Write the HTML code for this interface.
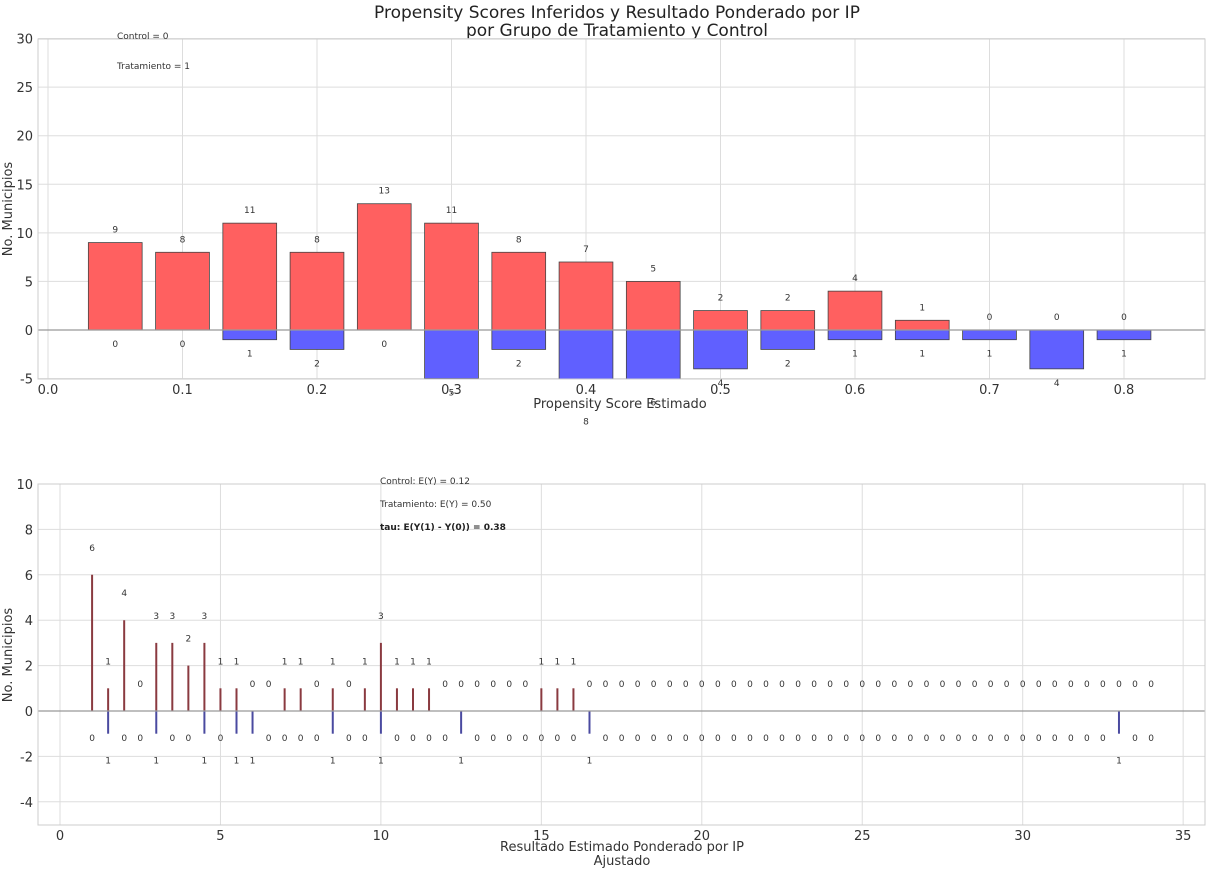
<!DOCTYPE html>
<html><head><meta charset="utf-8"><style>
body{margin:0;background:#fff}
svg{display:block;font-family:"DejaVu Sans","Liberation Sans",sans-serif}
</style></head><body>
<svg id="c" width="1216" height="880" xmlns="http://www.w3.org/2000/svg">
<text x="617" y="18" text-anchor="middle" font-size="17" fill="#222">Propensity Scores Inferidos y Resultado Ponderado por IP</text>
<text x="617" y="36" text-anchor="middle" font-size="17" fill="#222">por Grupo de Tratamiento y Control</text>
<g id="top"></g>
<g id="bot"></g>
</svg>
<script>
// Top panel data
const psBins = [0.05,0.10,0.15,0.20,0.25,0.30,0.35,0.40,0.45,0.50,0.55,0.60,0.65,0.70,0.75,0.80];
const psTreat = [9,8,11,8,13,11,8,7,5,2,2,4,1,0,0,0];
const psControl = [0,0,1,2,0,5,2,8,6,4,2,1,1,1,4,1];
const psXTicks = ["0.0","0.1","0.2","0.3","0.4","0.5","0.6","0.7","0.8"];
const psYTicks = [-5,0,5,10,15,20,25,30];
// Bottom panel data
const outBins = [];
for (let i=0;i<67;i++) outBins.push(1+i*0.5);
const outTreat = [6,1,4,0,3,3,2,3,1,1,0,0,1,1,0,1,0,1,3,1,1,1,0,0,0,0,0,0,1,1,1,0,0,0,0,0,0,0,0,0,0,0,0,0,0,0,0,0,0,0,0,0,0,0,0,0,0,0,0,0,0,0,0,0,0,0,0];
const outControl = [0,1,0,0,1,0,0,1,0,1,1,0,0,0,0,1,0,0,1,0,0,0,0,1,0,0,0,0,0,0,0,1,0,0,0,0,0,0,0,0,0,0,0,0,0,0,0,0,0,0,0,0,0,0,0,0,0,0,0,0,0,0,0,0,1,0,0];
const outXTicks = [0,5,10,15,20,25,30,35];
const outYTicks = [-4,-2,0,2,4,6,8,10];

const NS="http://www.w3.org/2000/svg";
function mk(p,tag,attrs,txt){const e=document.createElementNS(NS,tag);for(const k in attrs)e.setAttribute(k,attrs[k]);if(txt!==undefined)e.textContent=txt;p.appendChild(e);return e;}

function frame(g,L,R,T,B){
  const r=mk(g,'rect',{x:L,y:T,width:R-L,height:B-T,fill:'none',stroke:'#cccccc'});
  
  
}

// TOP
(function(){
  const g=document.getElementById('top');
  const L=38,R=1205,T=39,B=379;
  const x=v=>48+v*1345, y=v=>330-v*9.714;
  psXTicks.forEach(t=>{const v=parseFloat(t);
    const l=mk(g,'line',{x1:x(v),x2:x(v),y1:T,y2:B,stroke:'#dddddd'});
    
    const tx=mk(g,'text',{x:x(v),y:B+15,'text-anchor':'middle','font-size':13,fill:'#333'},t);
    });
  psYTicks.forEach(v=>{
    const l=mk(g,'line',{x1:L,x2:R,y1:y(v),y2:y(v),stroke:'#dddddd'});
    
    const tx=mk(g,'text',{x:L-5,y:y(v)+5,'text-anchor':'end','font-size':13,fill:'#333'},v);
    });
  const cp=mk(g,'clipPath',{id:'cpTop'});mk(cp,'rect',{x:L,y:T,width:R-L,height:B-T});
  const bw=0.04*1345;
  psBins.forEach((b,i)=>{
    const t=psTreat[i],c=psControl[i];
    if(t>0){const r=mk(g,'rect',{x:x(b)-bw/2,y:y(t),width:bw,height:y(0)-y(t),fill:'#ff6060',stroke:'#444','stroke-width':0.8,'clip-path':'url(#cpTop)'});
      }
    if(c>0){const r=mk(g,'rect',{x:x(b)-bw/2,y:y(0),width:bw,height:y(-c)-y(0),fill:'#6060ff',stroke:'#444','stroke-width':0.8,'clip-path':'url(#cpTop)'});
      }
    const a=mk(g,'text',{x:x(b),y:y(t)-10,'text-anchor':'middle','font-size':9,fill:'#333'},t);
    
    const d=mk(g,'text',{x:x(b),y:y(-c)+17,'text-anchor':'middle','font-size':9,fill:'#333'},c);
    
  });
  const z=mk(g,'line',{x1:L,x2:R,y1:y(0),y2:y(0),stroke:'#999','stroke-width':1.2});
  
  frame(g,L,R,T,B);
  const n1=mk(g,'text',{x:117,y:39,'font-size':9,fill:'#333'},'Control = 0');
  
  const n2=mk(g,'text',{x:117,y:69,'font-size':9,fill:'#333'},'Tratamiento = 1');
  
  const xl=mk(g,'text',{x:620,y:408,'text-anchor':'middle','font-size':13,fill:'#333'},'Propensity Score Estimado');
  
  const yl=mk(g,'text',{x:12,y:209,'text-anchor':'middle','font-size':13,fill:'#333',transform:'rotate(-90 12 209)'},'No. Municipios');
  
})();

// BOTTOM
(function(){
  const g=document.getElementById('bot');
  const L=38,R=1205,T=484,B=825;
  const x=v=>60+v*32.09, y=v=>711-v*22.7;
  outXTicks.forEach(v=>{
    const l=mk(g,'line',{x1:x(v),x2:x(v),y1:T,y2:B,stroke:'#dddddd'});
    
    const tx=mk(g,'text',{x:x(v),y:B+15,'text-anchor':'middle','font-size':13,fill:'#333'},v);
    });
  outYTicks.forEach(v=>{
    const l=mk(g,'line',{x1:L,x2:R,y1:y(v),y2:y(v),stroke:'#dddddd'});
    
    const tx=mk(g,'text',{x:L-5,y:y(v)+5,'text-anchor':'end','font-size':13,fill:'#333'},v);
    });
  outBins.forEach((b,i)=>{
    const t=outTreat[i],c=outControl[i];
    if(t>0){const s=mk(g,'line',{x1:x(b),x2:x(b),y1:y(0),y2:y(t),stroke:'#8a3a40','stroke-width':2});
      }
    if(c>0){const s=mk(g,'line',{x1:x(b),x2:x(b),y1:y(0),y2:y(-c),stroke:'#4a4aa0','stroke-width':2});
      }
    const a=mk(g,'text',{x:x(b),y:y(t)-24,'text-anchor':'middle','font-size':9,fill:'#333'},t);
    
    const d=mk(g,'text',{x:x(b),y:y(-c)+30,'text-anchor':'middle','font-size':9,fill:'#333'},c);
    
  });
  const z=mk(g,'line',{x1:L,x2:R,y1:y(0),y2:y(0),stroke:'#999','stroke-width':1.2});
  
  frame(g,L,R,T,B);
  const n1=mk(g,'text',{x:380,y:484,'font-size':9,fill:'#333'},'Control: E(Y) = 0.12');
  
  const n2=mk(g,'text',{x:380,y:507,'font-size':9,fill:'#333'},'Tratamiento: E(Y) = 0.50');
  
  const n3=mk(g,'text',{x:380,y:530,'font-size':9,fill:'#222','font-weight':'bold'},'tau: E(Y(1) - Y(0)) = 0.38');
  
  const xl=mk(g,'text',{x:622,y:851,'text-anchor':'middle','font-size':13,fill:'#333'},'Resultado Estimado Ponderado por IP');
  
  const xl2=mk(g,'text',{x:622,y:865,'text-anchor':'middle','font-size':13,fill:'#333'},'Ajustado');
  
  const yl=mk(g,'text',{x:12,y:655,'text-anchor':'middle','font-size':13,fill:'#333',transform:'rotate(-90 12 655)'},'No. Municipios');
  
})();
</script>
</body></html>
